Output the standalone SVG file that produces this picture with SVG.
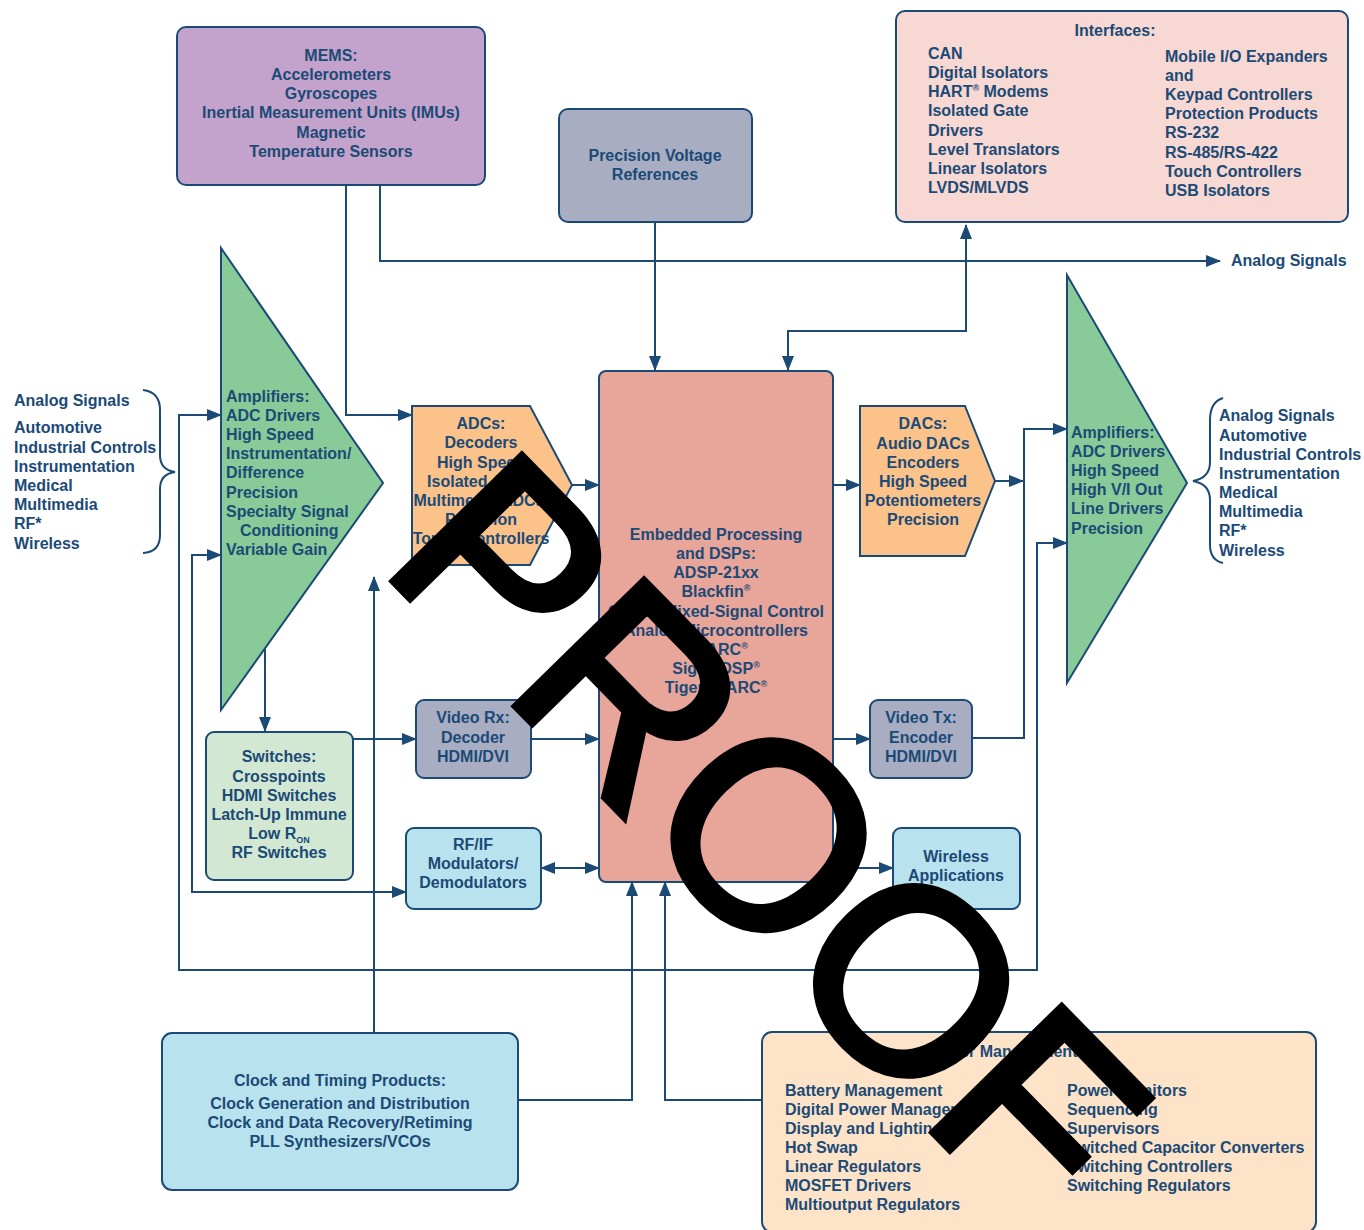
<svg xmlns="http://www.w3.org/2000/svg" width="1364" height="1230" viewBox="0 0 1364 1230">
<defs>
<style>
.t{font-family:"Liberation Sans",Arial,Helvetica,sans-serif;font-weight:bold;font-size:16px;fill:#1b4a76}
.c{text-anchor:middle}
.box{stroke:#1b4a76;stroke-width:2}
.ln{fill:none;stroke:#1b4a76;stroke-width:2}
.sup{font-size:9px}
</style>
<marker id="a" markerUnits="userSpaceOnUse" markerWidth="15" markerHeight="12" refX="14" refY="6" orient="auto-start-reverse">
<path d="M0,0 L15,6 L0,12 z" fill="#1b4a76"/>
</marker>
</defs>
<rect width="1364" height="1230" fill="#ffffff"/>

<g id="connectors">
<path class="ln" d="M346,185 V415 H412" marker-end="url(#a)"/>
<path class="ln" d="M380,185 V261 H1220" marker-end="url(#a)"/>
<path class="ln" d="M655,222 V370" marker-end="url(#a)"/>
<path class="ln" d="M788,370 V331 H966 V225" marker-start="url(#a)" marker-end="url(#a)"/>
<path class="ln" d="M1067,543 H1037 V970 H179 V415 H221" marker-start="url(#a)" marker-end="url(#a)"/>
<path class="ln" d="M221,555 H192 V892 H406" marker-start="url(#a)" marker-end="url(#a)"/>
<path class="ln" d="M265,648 V731" marker-end="url(#a)"/>
<path class="ln" d="M353,739 H416" marker-end="url(#a)"/>
<path class="ln" d="M374,1033 V577" marker-end="url(#a)"/>
<path class="ln" d="M531,739 H599" marker-end="url(#a)"/>
<path class="ln" d="M541,868 H599" marker-start="url(#a)" marker-end="url(#a)"/>
<path class="ln" d="M572,485 H599" marker-end="url(#a)"/>
<path class="ln" d="M833,485 H860" marker-end="url(#a)"/>
<path class="ln" d="M995,481 H1023" marker-end="url(#a)"/>
<path class="ln" d="M972,738 H1024 V429 H1067" marker-end="url(#a)"/>
<path class="ln" d="M833,739 H870" marker-end="url(#a)"/>
<path class="ln" d="M833,868 H893" marker-end="url(#a)"/>
<path class="ln" d="M518,1100 H632 V882" marker-end="url(#a)"/>
<path class="ln" d="M762,1100 H665 V882" marker-end="url(#a)"/>
<path class="ln" d="M143,390 Q160,392 160,410 V455 Q160,470 175,472 Q160,474 160,489 V535 Q160,552 143,553"/>
<path class="ln" d="M1223,398 Q1210,402 1210,420 V462 Q1210,478 1193,481 Q1210,484 1210,500 V545 Q1210,560 1223,563"/>
</g>

<g id="mems">
<rect class="box" x="177" y="27" width="308" height="158" rx="9" fill="#c3a3cb"/>
<text class="t c" x="331" y="61">MEMS:</text>
<text class="t c" x="331" y="80">Accelerometers</text>
<text class="t c" x="331" y="99">Gyroscopes</text>
<text class="t c" x="331" y="118">Inertial Measurement Units (IMUs)</text>
<text class="t c" x="331" y="138">Magnetic</text>
<text class="t c" x="331" y="157">Temperature Sensors</text>
</g>

<g id="pvr">
<rect class="box" x="559" y="109" width="193" height="113" rx="9" fill="#a8adc2"/>
<text class="t c" x="655" y="161">Precision Voltage</text>
<text class="t c" x="655" y="180">References</text>
</g>

<g id="interfaces">
<rect class="box" x="896" y="11" width="452" height="211" rx="9" fill="#f7d8d2"/>
<text class="t c" x="1115" y="36">Interfaces:</text>
<text class="t" x="928" y="59">CAN</text>
<text class="t" x="928" y="78">Digital Isolators</text>
<text class="t" x="928" y="97">HART<tspan class="sup" dy="-6">®</tspan><tspan dy="6"> Modems</tspan></text>
<text class="t" x="928" y="116">Isolated Gate</text>
<text class="t" x="928" y="136">Drivers</text>
<text class="t" x="928" y="155">Level Translators</text>
<text class="t" x="928" y="174">Linear Isolators</text>
<text class="t" x="928" y="193">LVDS/MLVDS</text>
<text class="t" x="1165" y="62">Mobile I/O Expanders</text>
<text class="t" x="1165" y="81">and</text>
<text class="t" x="1165" y="100">Keypad Controllers</text>
<text class="t" x="1165" y="119">Protection Products</text>
<text class="t" x="1165" y="138">RS-232</text>
<text class="t" x="1165" y="158">RS-485/RS-422</text>
<text class="t" x="1165" y="177">Touch Controllers</text>
<text class="t" x="1165" y="196">USB Isolators</text>
</g>

<g id="analog-out-label">
<text class="t" x="1231" y="266">Analog Signals</text>
</g>

<g id="left-signals">
<text class="t" x="14" y="406">Analog Signals</text>
<text class="t" x="14" y="433">Automotive</text>
<text class="t" x="14" y="453">Industrial Controls</text>
<text class="t" x="14" y="472">Instrumentation</text>
<text class="t" x="14" y="491">Medical</text>
<text class="t" x="14" y="510">Multimedia</text>
<text class="t" x="14" y="529">RF*</text>
<text class="t" x="14" y="549">Wireless</text>
</g>

<g id="amp-left">
<polygon class="box" points="221,248 383,483 221,710" fill="#88cb98"/>
<text class="t" x="226" y="402">Amplifiers:</text>
<text class="t" x="226" y="421">ADC Drivers</text>
<text class="t" x="226" y="440">High Speed</text>
<text class="t" x="226" y="459">Instrumentation/</text>
<text class="t" x="226" y="478">Difference</text>
<text class="t" x="226" y="498">Precision</text>
<text class="t" x="226" y="517">Specialty Signal</text>
<text class="t" x="240" y="536">Conditioning</text>
<text class="t" x="226" y="555">Variable Gain</text>
</g>

<g id="adcs">
<polygon class="box" points="412,406 530,406 572,485 530,565 412,565" fill="#fbc28a"/>
<text class="t c" x="481" y="429">ADCs:</text>
<text class="t c" x="481" y="448">Decoders</text>
<text class="t c" x="481" y="468">High Speed</text>
<text class="t c" x="481" y="487">Isolated ADCs</text>
<text class="t c" x="479" y="506">Multimedia ADCs</text>
<text class="t c" x="481" y="525">Precision</text>
<text class="t c" x="481" y="544">Touch Controllers</text>
</g>

<g id="embedded">
<rect class="box" x="599" y="371" width="234" height="511" rx="7" fill="#e8a59a"/>
<text class="t c" x="716" y="540">Embedded Processing</text>
<text class="t c" x="716" y="559">and DSPs:</text>
<text class="t c" x="716" y="578">ADSP-21xx</text>
<text class="t c" x="716" y="597">Blackfin<tspan class="sup" dy="-6">®</tspan></text>
<text class="t c" x="716" y="617">CM40x Mixed-Signal Control</text>
<text class="t c" x="716" y="636">Analog Microcontrollers</text>
<text class="t c" x="716" y="655">SHARC<tspan class="sup" dy="-6">®</tspan></text>
<text class="t c" x="716" y="674">SigmaDSP<tspan class="sup" dy="-6">®</tspan></text>
<text class="t c" x="716" y="693">TigerSHARC<tspan class="sup" dy="-6">®</tspan></text>
</g>

<g id="dacs">
<polygon class="box" points="860,406 965,406 995,481 965,556 860,556" fill="#fbc28a"/>
<text class="t c" x="923" y="429">DACs:</text>
<text class="t c" x="923" y="449">Audio DACs</text>
<text class="t c" x="923" y="468">Encoders</text>
<text class="t c" x="923" y="487">High Speed</text>
<text class="t c" x="923" y="506">Potentiometers</text>
<text class="t c" x="923" y="525">Precision</text>
</g>

<g id="amp-right">
<polygon class="box" points="1067,275 1187,483 1067,683" fill="#88cb98"/>
<text class="t" x="1071" y="438">Amplifiers:</text>
<text class="t" x="1071" y="457">ADC Drivers</text>
<text class="t" x="1071" y="476">High Speed</text>
<text class="t" x="1071" y="495">High V/I Out</text>
<text class="t" x="1071" y="514">Line Drivers</text>
<text class="t" x="1071" y="534">Precision</text>
</g>

<g id="right-signals">
<text class="t" x="1219" y="421">Analog Signals</text>
<text class="t" x="1219" y="441">Automotive</text>
<text class="t" x="1219" y="460">Industrial Controls</text>
<text class="t" x="1219" y="479">Instrumentation</text>
<text class="t" x="1219" y="498">Medical</text>
<text class="t" x="1219" y="517">Multimedia</text>
<text class="t" x="1219" y="536">RF*</text>
<text class="t" x="1219" y="556">Wireless</text>
</g>

<g id="switches">
<rect class="box" x="206" y="732" width="147" height="148" rx="8" fill="#d2e8d3"/>
<text class="t c" x="279" y="762">Switches:</text>
<text class="t c" x="279" y="782">Crosspoints</text>
<text class="t c" x="279" y="801">HDMI Switches</text>
<text class="t c" x="279" y="820">Latch-Up Immune</text>
<text class="t c" x="279" y="839">Low R<tspan class="sup" dy="4">ON</tspan></text>
<text class="t c" x="279" y="858">RF Switches</text>
</g>

<g id="video-rx">
<rect class="box" x="416" y="700" width="115" height="78" rx="8" fill="#a8adc2"/>
<text class="t c" x="473" y="723">Video Rx:</text>
<text class="t c" x="473" y="743">Decoder</text>
<text class="t c" x="473" y="762">HDMI/DVI</text>
</g>

<g id="rf-if">
<rect class="box" x="406" y="828" width="135" height="81" rx="8" fill="#b8e2ee"/>
<text class="t c" x="473" y="850">RF/IF</text>
<text class="t c" x="473" y="869">Modulators/</text>
<text class="t c" x="473" y="888">Demodulators</text>
</g>

<g id="video-tx">
<rect class="box" x="870" y="700" width="102" height="78" rx="8" fill="#a8adc2"/>
<text class="t c" x="921" y="723">Video Tx:</text>
<text class="t c" x="921" y="743">Encoder</text>
<text class="t c" x="921" y="762">HDMI/DVI</text>
</g>

<g id="wireless">
<rect class="box" x="893" y="828" width="127" height="81" rx="8" fill="#b8e2ee"/>
<text class="t c" x="956" y="862">Wireless</text>
<text class="t c" x="956" y="881">Applications</text>
</g>

<g id="clock">
<rect class="box" x="162" y="1033" width="356" height="157" rx="10" fill="#b8e2ee"/>
<text class="t c" x="340" y="1086">Clock and Timing Products:</text>
<text class="t c" x="340" y="1109">Clock Generation and Distribution</text>
<text class="t c" x="340" y="1128">Clock and Data Recovery/Retiming</text>
<text class="t c" x="340" y="1147">PLL Synthesizers/VCOs</text>
</g>

<g id="power">
<rect class="box" x="762" y="1032" width="554" height="200" rx="10" fill="#fde3c8"/>
<text class="t c" x="1005" y="1057">Power Management:</text>
<text class="t" x="785" y="1096">Battery Management</text>
<text class="t" x="785" y="1115">Digital Power Management</text>
<text class="t" x="785" y="1134">Display and Lighting</text>
<text class="t" x="785" y="1153">Hot Swap</text>
<text class="t" x="785" y="1172">Linear Regulators</text>
<text class="t" x="785" y="1191">MOSFET Drivers</text>
<text class="t" x="785" y="1210">Multioutput Regulators</text>
<text class="t" x="1067" y="1096">Power Monitors</text>
<text class="t" x="1067" y="1115">Sequencing</text>
<text class="t" x="1067" y="1134">Supervisors</text>
<text class="t" x="1067" y="1153">Switched Capacitor Converters</text>
<text class="t" x="1067" y="1172">Switching Controllers</text>
<text class="t" x="1067" y="1191">Switching Regulators</text>
</g>

<g id="watermark">
<text x="378" y="566" transform="rotate(45.6 378 566)" font-family="Liberation Sans, Arial, sans-serif" font-size="262" fill="#000000" stroke="#000000" stroke-width="7">PROOF</text>
</g>
</svg>
